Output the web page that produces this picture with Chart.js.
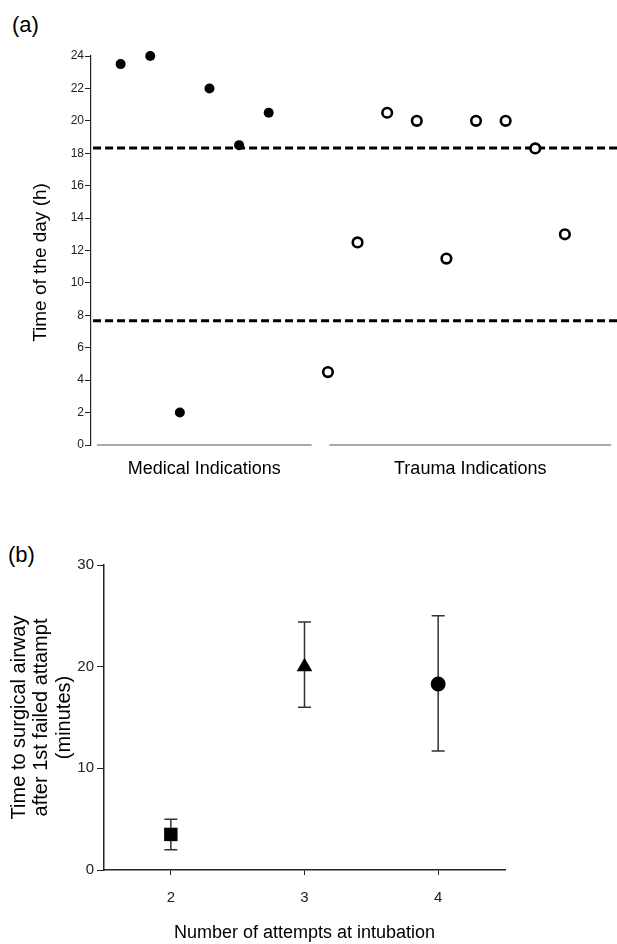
<!DOCTYPE html>
<html>
<head>
<meta charset="utf-8">
<script src="https://cdn.jsdelivr.net/npm/chart.js@4"></script>
<style>
  body { margin: 0; background: #fff; width: 617px; height: 944px; position: relative; overflow: hidden; }
  canvas { position: absolute; left: 0; }
  .tag { position: absolute; font: 22px "Liberation Sans", Arial, sans-serif; line-height: 22px; color: #000; }
</style>
</head>
<body>
<div class="tag" style="left:12px;top:14px">(a)</div>
<canvas id="chartA" width="617" height="500" style="top:0"></canvas>
<div class="tag" style="left:8px;top:544px">(b)</div>
<canvas id="chartB" width="617" height="444" style="top:500px"></canvas>
<script>
// panel (a): time of day per case
const medicalX = [1, 2, 3, 4, 5, 6];
const medicalHours = [23.5, 24, 2, 22, 18.5, 20.5];
const traumaX = [8, 9, 10, 11, 12, 13, 14, 15, 16];
const traumaHours = [4.5, 12.5, 20.5, 20, 11.5, 20, 20, 18.3, 13];
const shiftLimits = [18.33, 7.67];
const groupNames = ['Medical Indications', 'Trauma Indications'];
const groupStart = [0.2, 8.05];
const groupEnd = [7.45, 17.56];
const hourTicks = [0, 2, 4, 6, 8, 10, 12, 14, 16, 18, 20, 22, 24];

// panel (b): mean time with range
const attempts = [2, 3, 4];
const meanMinutes = [3.5, 20, 18.3];
const lowMinutes = [2, 16, 11.7];
const highMinutes = [5, 24.4, 25];
const minuteTicks = [0, 10, 20, 30];

const FONT = '"Liberation Sans", Arial, sans-serif';
const INK = '#222';
Chart.defaults.font.family = FONT;
Chart.defaults.color = INK;

const xMinA = 0, xMaxA = 17.76;

const lineData = (x0, x1, y) => [{x: x0, y: y}, {x: x1, y: y}];

const datasetsA = [
  {
    type: 'scatter',
    data: medicalX.map((x, i) => ({x: x, y: medicalHours[i]})),
    pointRadius: 5,
    backgroundColor: '#000',
    borderWidth: 0,
    clip: false
  },
  {
    type: 'scatter',
    data: traumaX.map((x, i) => ({x: x, y: traumaHours[i]})),
    pointRadius: 4.8,
    backgroundColor: '#fff',
    borderColor: '#000',
    borderWidth: 2.6,
    clip: false
  }
];
shiftLimits.forEach(h => datasetsA.push({
  type: 'line',
  data: lineData(xMinA + 0.07, xMaxA, h),
  borderColor: '#000',
  borderWidth: 3,
  borderDash: [8, 4],
  pointRadius: 0,
  clip: false
}));
groupNames.forEach((g, i) => datasetsA.push({
  type: 'line',
  data: lineData(groupStart[i], groupEnd[i], 0),
  borderColor: '#555',
  borderWidth: 1.2,
  pointRadius: 0,
  clip: false
}));

// y title of (a) sits a little below the middle of the axis
const hourTitle = {
  id: 'hourTitle',
  afterDraw(chart) {
    const {ctx, chartArea} = chart;
    ctx.save();
    ctx.translate(41, (chartArea.top + chartArea.bottom) / 2 + 12);
    ctx.rotate(-Math.PI / 2);
    ctx.font = '19px ' + FONT;
    ctx.fillStyle = '#000';
    ctx.textAlign = 'center';
    ctx.textBaseline = 'middle';
    ctx.fillText('Time of the day (h)', 0, 0);
    ctx.restore();
  }
};

new Chart(document.getElementById('chartA'), {
  type: 'scatter',
  data: { datasets: datasetsA },
  options: {
    responsive: false,
    animation: false,
    layout: { autoPadding: false, padding: { top: 56, right: 0, bottom: 0, left: 0 } },
    plugins: { legend: { display: false }, tooltip: { enabled: false } },
    scales: {
      x: {
        type: 'linear',
        min: xMinA,
        max: xMaxA,
        afterFit: s => { s.height = 55; },
        afterBuildTicks: s => { s.ticks = groupNames.map((g, i) => ({value: (groupStart[i] + groupEnd[i]) / 2})); },
        grid: { display: false },
        border: { display: false },
        ticks: {
          font: { size: 18 },
          color: '#000',
          padding: 5,
          maxRotation: 0,
          callback: (v, i) => groupNames[i]
        }
      },
      y: {
        min: 0,
        max: 24,
        afterFit: s => { s.width = 91; },
        afterBuildTicks: s => { s.ticks = hourTicks.map(v => ({value: v})); },
        grid: { drawOnChartArea: false, tickLength: 6, color: INK },
        border: { color: INK, width: 1.2 },
        ticks: { font: { size: 12 }, padding: 1 }
      }
    }
  },
  plugins: [hourTitle]
});

const errorBars = {
  id: 'errorBars',
  beforeDatasetsDraw(chart) {
    const {ctx, scales: {x, y}} = chart;
    ctx.save();
    ctx.strokeStyle = '#333';
    ctx.lineWidth = 1.5;
    attempts.forEach((a, i) => {
      const px = x.getPixelForValue(a);
      const lo = y.getPixelForValue(lowMinutes[i]);
      const hi = y.getPixelForValue(highMinutes[i]);
      ctx.beginPath();
      ctx.moveTo(px, lo); ctx.lineTo(px, hi);
      ctx.moveTo(px - 6.5, lo); ctx.lineTo(px + 6.5, lo);
      ctx.moveTo(px - 6.5, hi); ctx.lineTo(px + 6.5, hi);
      ctx.stroke();
    });
    ctx.restore();
  }
};

new Chart(document.getElementById('chartB'), {
  type: 'scatter',
  data: {
    datasets: [{
      data: attempts.map((a, i) => ({x: a, y: meanMinutes[i]})),
      pointStyle: ['rect', 'triangle', 'circle'],
      pointRadius: [9.5, 9, 7.5],
      backgroundColor: '#000',
      borderColor: '#000',
      borderWidth: 0,
      clip: false
    }]
  },
  options: {
    responsive: false,
    animation: false,
    layout: { autoPadding: false, padding: { top: 65, right: 112, bottom: 0, left: 0 } },
    plugins: { legend: { display: false }, tooltip: { enabled: false } },
    scales: {
      x: {
        type: 'linear',
        min: 1.5,
        max: 4.5,
        afterFit: s => { s.height = 74; },
        afterBuildTicks: s => { s.ticks = attempts.map(v => ({value: v})); },
        grid: { drawOnChartArea: false, tickLength: 5, color: INK },
        border: { color: INK, width: 1.5 },
        ticks: { font: { size: 15 }, padding: 14 },
        title: {
          display: true,
          text: 'Number of attempts at intubation',
          font: { size: 18 },
          color: '#000',
          padding: { top: 0, bottom: 0 }
        }
      },
      y: {
        min: 0,
        max: 30,
        afterFit: s => { s.width = 104; },
        afterBuildTicks: s => { s.ticks = minuteTicks.map(v => ({value: v})); },
        grid: { drawOnChartArea: false, tickLength: 7, color: INK },
        border: { color: INK, width: 1.5 },
        ticks: { font: { size: 15 }, padding: 3 },
        title: {
          display: true,
          text: ['Time to surgical airway', 'after 1st failed attampt', '(minutes)'],
          font: { size: 20, lineHeight: 1.12 },
          color: '#000',
          padding: { top: 8, bottom: 0 }
        }
      }
    }
  },
  plugins: [errorBars]
});
</script>
</body>
</html>
